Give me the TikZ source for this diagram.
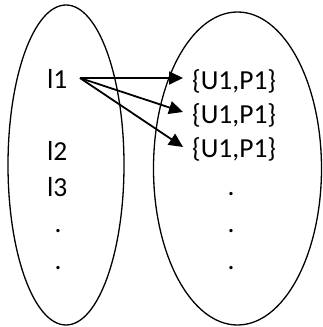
\documentclass[tikz,border=0pt]{standalone}
\usepackage{fontspec}
\setmainfont{Carlito}
\usetikzlibrary{arrows.meta}
\begin{document}
\begin{tikzpicture}[x=1pt,y=1pt,
  lbl/.style={anchor=base west,inner sep=0pt,font=\fontsize{27.5}{33}\selectfont},
  dotlbl/.style={anchor=base,inner sep=0pt,font=\fontsize{27.5}{33}\selectfont},
  setshape/.style={draw,line width=1.3pt},
  maparrow/.style={line width=1.8pt,-{Triangle[length=14pt,width=13pt]}}]
\useasboundingbox (0,0) rectangle (322,327);
\draw[setshape] (66,162) ellipse [x radius=58,y radius=160];
\draw[setshape] (237.5,158.5) ellipse [x radius=84,y radius=156.5];
\node[lbl] (l1) at (47,238) {l1};
\node[lbl] (l2) at (47,166) {l2};
\node[lbl] (l3) at (47,130) {l3};
\node[dotlbl] (ld1) at (58,94) {.};
\node[dotlbl] (ld2) at (58,57) {.};
\node[lbl] (r1) at (192,237) {\{U1,P1\}};
\node[lbl] (r2) at (192,203) {\{U1,P1\}};
\node[lbl] (r3) at (192,169) {\{U1,P1\}};
\node[dotlbl] (rd1) at (231,131) {.};
\node[dotlbl] (rd2) at (231,94) {.};
\node[dotlbl] (rd3) at (231,57) {.};
\coordinate (s) at (80,249);
\coordinate (e1) at (183,249);
\coordinate (e2) at (183,215);
\coordinate (e3) at (183,180);
\draw[maparrow] (s) -- (e1);
\draw[maparrow] (s) -- (e2);
\draw[maparrow] (s) -- (e3);
\end{tikzpicture}
\end{document}
